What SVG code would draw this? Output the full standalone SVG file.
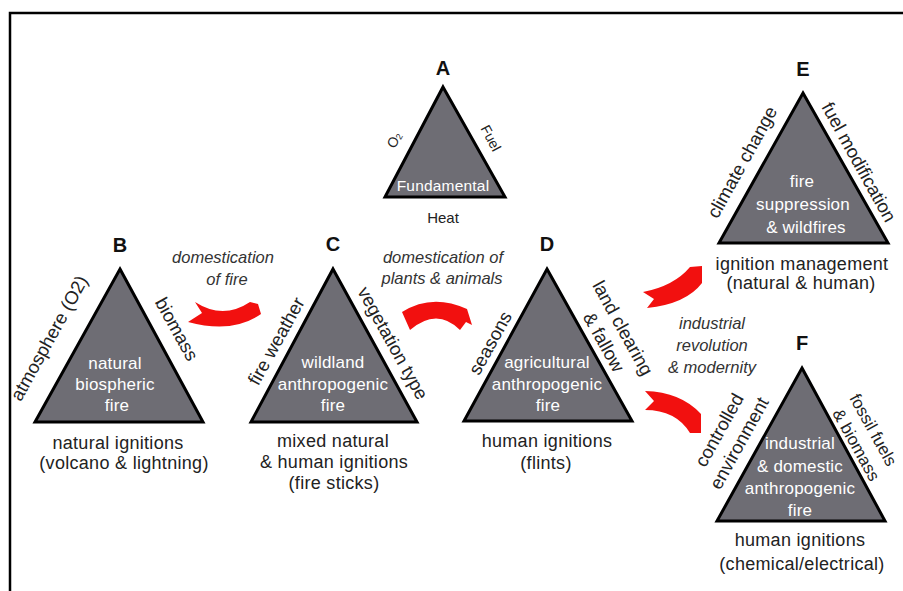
<svg xmlns="http://www.w3.org/2000/svg" width="903" height="591" viewBox="0 0 903 591">
<style>
  text { font-family: "Liberation Sans", Arial, sans-serif; fill: #222; }
  .tri { fill: #6e6d74; stroke: #000; stroke-width: 3; stroke-linejoin: miter; }
  .letter { font-size: 20px; font-weight: bold; text-anchor: middle; fill: #111; }
  .inner { font-size: 17px; fill: #fff; text-anchor: middle; letter-spacing: 0.2px; }
  .below { font-size: 18px; text-anchor: middle; letter-spacing: 0.3px; }
  .side { font-size: 18.5px; text-anchor: middle; dominant-baseline: central; }
  .small { font-size: 14px; text-anchor: middle; }
  .ital { font-size: 16.5px; font-style: italic; text-anchor: middle; fill: #333; }
  .arrow { fill: #f2100f; }
  .frame { fill: none; stroke: #000; stroke-width: 2.5; }
</style>
<rect width="903" height="591" fill="#fff"/>
<path class="frame" d="M10,591 V13 H903"/>

<g id="connectors">
  <path class="arrow" d="M195,302 Q223,320 250,302 L258,304 L261,314 Q233,334 188,322 L202,313 Z"/>
  <path class="arrow" d="M402,312 Q432,293 467,309 L472,325 L466,322 L460,330 Q437,307 410,330 Z"/>
  <path class="arrow" d="M643,292 Q674,286 690,267 L702,266 L702,283 Q686,304 647,308 L654,299 Z"/>
  <path class="arrow" d="M645,391 Q681,392 701,414 L701,433 L690,433 Q676,410 645,410 L654,401 Z"/>
  <text class="ital" x="223" y="263">domestication</text>
  <text class="ital" x="227" y="285">of fire</text>
  <text class="ital" x="443" y="263">domestication of</text>
  <text class="ital" x="442" y="284">plants &amp; animals</text>
  <text class="ital" x="712" y="329">industrial</text>
  <text class="ital" x="712" y="351">revolution</text>
  <text class="ital" x="712" y="373">&amp; modernity</text>
</g>

<g id="node-A">
  <polygon class="tri" points="443,87 505,197 385,197"/>
  <text class="letter" x="443" y="75">A</text>
  <text class="inner" x="443" y="191" style="font-size:15.5px">Fundamental</text>
  <text class="small" x="443" y="223" style="font-size:15px">Heat</text>
  <text class="small" transform="translate(394,140) rotate(-62)" dominant-baseline="central">O<tspan font-size="9" dy="3">2</tspan></text>
  <text class="small" transform="translate(491,138) rotate(62)" dominant-baseline="central">Fuel</text>
</g>

<g id="node-B">
  <polygon class="tri" points="120,269 203,422 35,422"/>
  <text class="letter" x="120" y="252">B</text>
  <text class="inner" x="115" y="369">natural</text>
  <text class="inner" x="115" y="390">biospheric</text>
  <text class="inner" x="117" y="411">fire</text>
  <text class="below" x="118" y="449">natural ignitions</text>
  <text class="below" x="124" y="469">(volcano &amp; lightning)</text>
  <text class="side" transform="translate(49,338) rotate(-61)">atmosphere (O2)</text>
  <text class="side" transform="translate(177,329) rotate(61)">biomass</text>
</g>

<g id="node-C">
  <polygon class="tri" points="333,269 417,422 251,422"/>
  <text class="letter" x="333" y="251">C</text>
  <text class="inner" x="333" y="368">wildland</text>
  <text class="inner" x="333" y="390">anthropogenic</text>
  <text class="inner" x="333" y="411">fire</text>
  <text class="below" x="333" y="447">mixed natural</text>
  <text class="below" x="334" y="468">&amp; human ignitions</text>
  <text class="below" x="334" y="489">(fire sticks)</text>
  <text class="side" transform="translate(276,341) rotate(-61)">fire weather</text>
  <text class="side" transform="translate(393,343) rotate(61)">vegetation type</text>
</g>

<g id="node-D">
  <polygon class="tri" points="547,269 632,421 464,421"/>
  <text class="letter" x="547" y="251">D</text>
  <text class="inner" x="547" y="368">agricultural</text>
  <text class="inner" x="547" y="390">anthropogenic</text>
  <text class="inner" x="548" y="411">fire</text>
  <text class="below" x="547" y="447">human ignitions</text>
  <text class="below" x="546" y="469">(flints)</text>
  <text class="side" transform="translate(623,328) rotate(61)">land clearing</text>
  <text class="side" transform="translate(604,342) rotate(61)">&amp; fallow</text>
  <text class="side" transform="translate(490,343) rotate(-61)">seasons</text>
</g>

<g id="node-E">
  <polygon class="tri" points="803,93 888,243 719,243"/>
  <text class="letter" x="803" y="76">E</text>
  <text class="inner" x="802" y="187">fire</text>
  <text class="inner" x="803" y="210">suppression</text>
  <text class="inner" x="806" y="233">&amp; wildfires</text>
  <text class="below" x="802" y="270">ignition management</text>
  <text class="below" x="801" y="289">(natural &amp; human)</text>
  <text class="side" transform="translate(742,162) rotate(-61)">climate change</text>
  <text class="side" transform="translate(859,162) rotate(61)">fuel modification</text>
</g>

<g id="node-F">
  <polygon class="tri" points="802,368 885,521 717,521"/>
  <text class="letter" x="802" y="350">F</text>
  <text class="inner" x="800" y="449">industrial</text>
  <text class="inner" x="800" y="472">&amp; domestic</text>
  <text class="inner" x="800" y="494">anthropogenic</text>
  <text class="inner" x="800" y="516">fire</text>
  <text class="below" x="800" y="546">human ignitions</text>
  <text class="below" x="802" y="570">(chemical/electrical)</text>
  <text class="side" transform="translate(719,430) rotate(-61)">controlled</text>
  <text class="side" transform="translate(739,443) rotate(-61)">environment</text>
  <text class="side" transform="translate(873,430) rotate(61)" style="font-size:17px">fossil fuels</text>
  <text class="side" transform="translate(856,445) rotate(61)" style="font-size:17px">&amp; biomass</text>
</g>
</svg>
